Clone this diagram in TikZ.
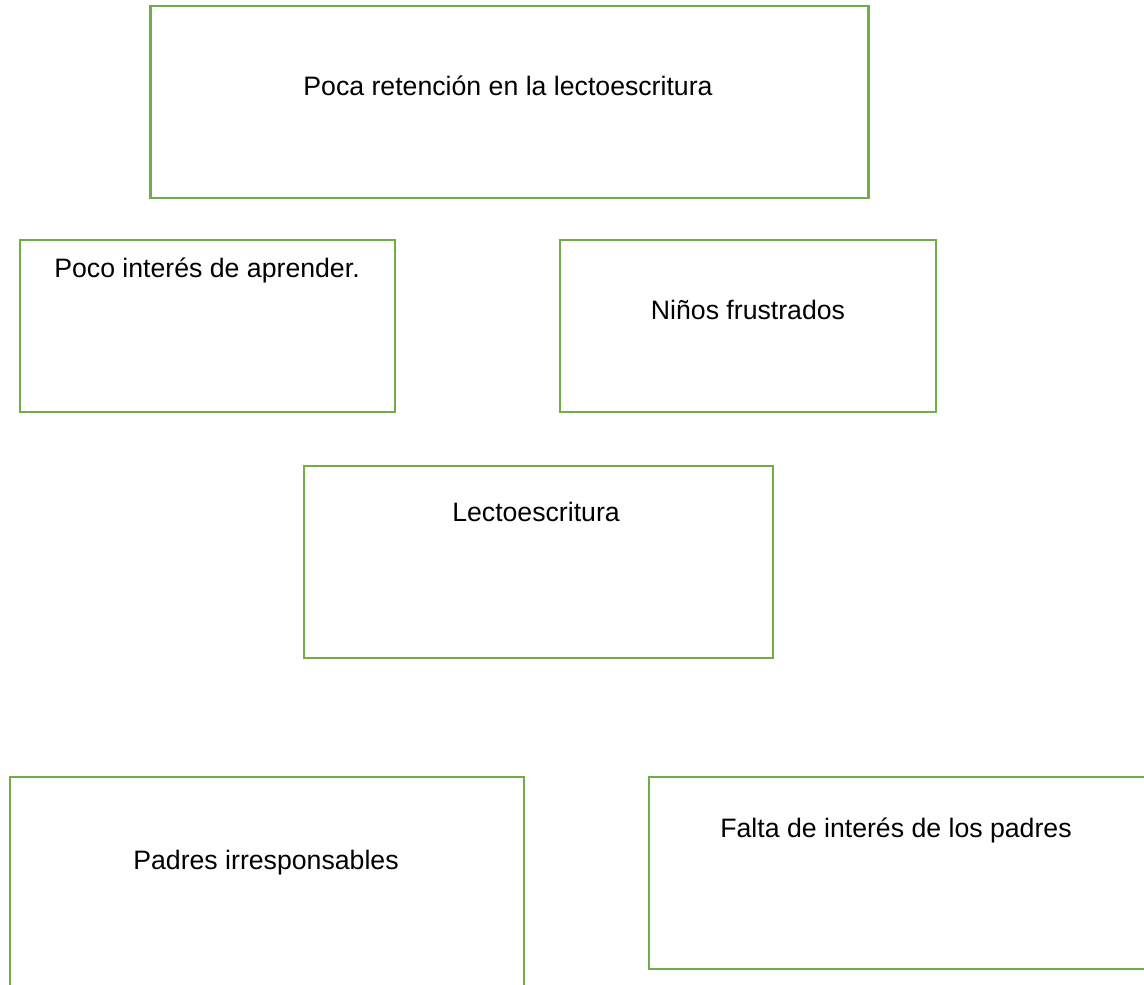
\documentclass[tikz,border=0pt]{standalone}
\usepackage{fontspec}
\setmainfont{Liberation Sans}
\usetikzlibrary{positioning}
\definecolor{boxgreen}{RGB}{112,173,71}
\tikzset{
    every node/.style={font=\fontsize{12}{14}\selectfont},
    causebox/.style 2 args={draw=boxgreen, line width=1.2pt, inner sep=0pt,
        minimum width=#1*0.45pt, minimum height=#2*0.45pt},
    boxtext/.style={text=black, inner sep=0pt},
}

\begin{document}
\begin{tikzpicture}[x=0.45pt, y=-0.45pt]
        \useasboundingbox (0, 0) rectangle (1144, 984);
        \clip (0, 0) rectangle (1144, 984);
        \node[causebox={718}{192}] (retencion) at (509.5, 102) {}; % Top box
        \node[boxtext] (retencionT) at (508, 86)
            {Poca retención en la lectoescritura};
        \node[causebox={375}{172}] (interes) at (207.5, 326) {}; % Left box
        \node[boxtext] (interesT) at (207, 270) {Poco interés de aprender.};
        \node[causebox={376}{172}] (frustrados) at (748, 326) {}; % Right box
        \node[boxtext] (frustradosT) at (748, 310) {Niños frustrados};
        \node[causebox={469}{192}] (lecto) at (538.5, 562) {}; % Middle box
        \node[boxtext] (lectoT) at (536, 512) {Lectoescritura};
        \node[causebox={514}{223}] (padres) at (267, 888.5) {}; % Bottom left
        \node[boxtext] (padresT) at (266, 863) {Padres irresponsables};
        \node[causebox={511}{192}] (falta) at (904.5, 873) {}; % Bottom right
        \node[boxtext] (faltaT) at (896, 830)
            {Falta de interés de los padres};
    \end{tikzpicture}
\end{document}
